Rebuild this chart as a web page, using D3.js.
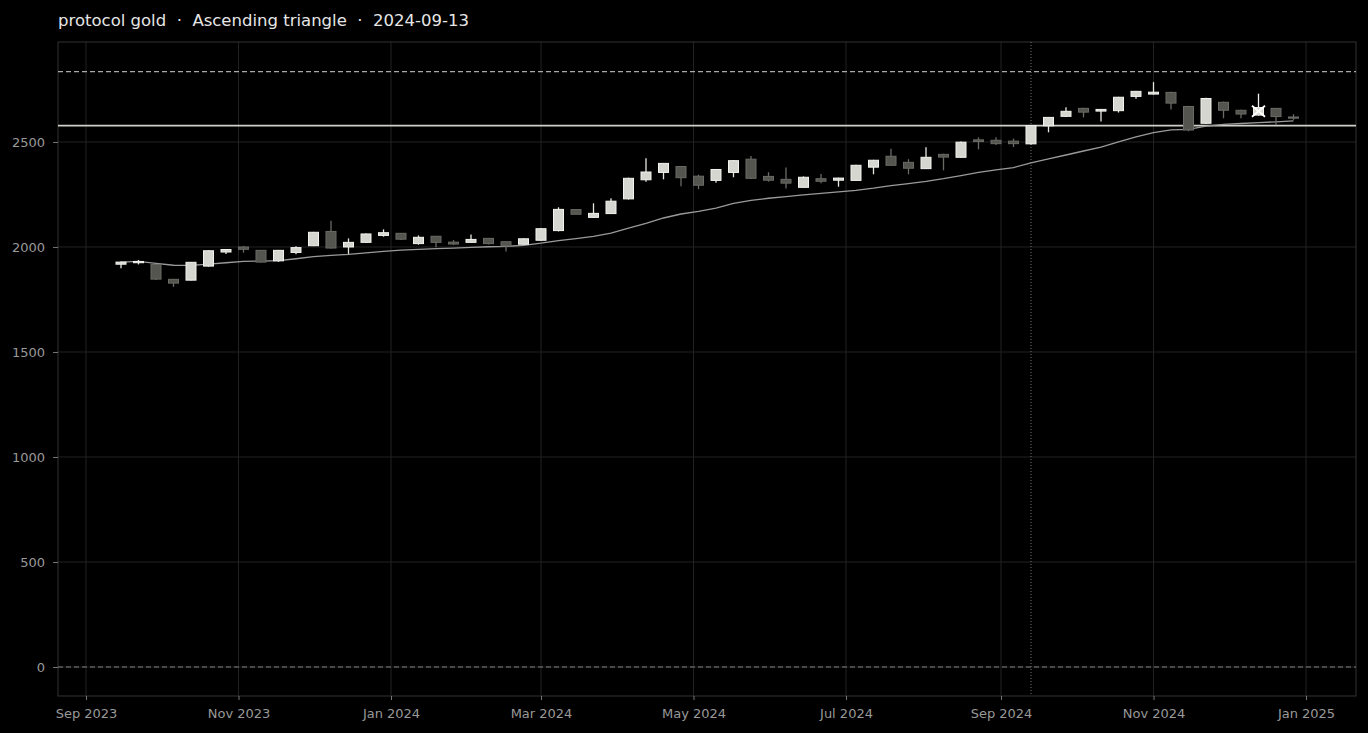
<!doctype html>
<html>
<head>
<meta charset="utf-8">
<script src="https://d3js.org/d3.v7.min.js"></script>
<style>
  body { margin: 0; background: #000; }
  svg { display: block; font-family: "DejaVu Sans", sans-serif; }
</style>
</head>
<body>
<div id="graphic"></div>
<script>

// weekly bars
var dates = [
  "2023-09-15","2023-09-22","2023-09-29","2023-10-06","2023-10-13","2023-10-20","2023-10-27",
  "2023-11-03","2023-11-10","2023-11-17","2023-11-24","2023-12-01","2023-12-08","2023-12-15",
  "2023-12-22","2023-12-29","2024-01-05","2024-01-12","2024-01-19","2024-01-26","2024-02-02",
  "2024-02-09","2024-02-16","2024-02-23","2024-03-01","2024-03-08","2024-03-15","2024-03-22",
  "2024-03-29","2024-04-05","2024-04-12","2024-04-19","2024-04-26","2024-05-03","2024-05-10",
  "2024-05-17","2024-05-24","2024-05-31","2024-06-07","2024-06-14","2024-06-21","2024-06-28",
  "2024-07-05","2024-07-12","2024-07-19","2024-07-26","2024-08-02","2024-08-09","2024-08-16",
  "2024-08-23","2024-08-30","2024-09-06","2024-09-13","2024-09-20","2024-09-27","2024-10-04",
  "2024-10-11","2024-10-18","2024-10-25","2024-11-01","2024-11-08","2024-11-15","2024-11-22",
  "2024-11-29","2024-12-06","2024-12-13","2024-12-20","2024-12-27"
];
var open = [
  1918,1925,1917,1846,1842,1909,1976,2000,1984,1934,1974,2006,2074,2000,2022,2055,2065,2016,
  2051,2023,2022,2041,2025,2013,2032,2078,2178,2141,2159,2229,2320,2355,2383,2337,2317,2355,
  2418,2336,2322,2284,2325,2318,2317,2380,2432,2403,2373,2441,2427,2510,2508,2504,2491,2577,
  2622,2660,2647,2649,2717,2728,2736,2669,2589,2689,2651,2628,2660,2619
];
var high = [
  1931,1938,1918,1847,1929,1984,1990,2005,1986,1986,2003,2072,2125,2041,2064,2084,2067,2055,
  2052,2033,2060,2042,2026,2041,2090,2189,2179,2208,2232,2330,2422,2400,2385,2344,2371,2413,
  2433,2356,2379,2336,2348,2330,2391,2415,2468,2418,2475,2444,2502,2522,2522,2516,2580,2619,
  2665,2663,2657,2715,2743,2785,2739,2672,2710,2692,2653,2666,2662,2632
];
var low = [
  1899,1917,1843,1810,1840,1906,1966,1973,1926,1929,1965,2004,1993,1967,2020,2049,2033,2011,
  1999,2009,2020,2012,1978,2011,2030,2074,2154,2139,2157,2226,2311,2322,2289,2275,2306,2332,
  2325,2311,2278,2282,2303,2287,2315,2346,2388,2346,2371,2365,2425,2465,2486,2476,2488,2546,
  2620,2617,2597,2640,2706,2726,2655,2551,2586,2613,2613,2626,2581,2605
];
var close = [
  1928,1931,1847,1828,1927,1982,1988,1989,1928,1984,1997,2070,1995,2022,2062,2068,2037,2046,
  2022,2014,2036,2016,2005,2039,2087,2179,2156,2160,2218,2327,2357,2398,2330,2294,2369,2411,
  2327,2318,2304,2332,2313,2328,2389,2413,2389,2375,2427,2428,2499,2502,2492,2492,2578,2617,
  2646,2642,2655,2713,2741,2737,2685,2557,2707,2651,2633,2664,2621,2615
];
var trend = [
  1928,1931,1922,1913,1912,1918,1925,1931,1933,1935,1944,1954,1960,1965,1972,1979,1985,1989,
  1992,1995,1998,2001,2003,2008,2018,2030,2040,2050,2066,2090,2112,2138,2157,2170,2185,2208,
  2222,2232,2240,2248,2255,2262,2270,2280,2292,2302,2312,2325,2340,2355,2367,2378,2400,2420,
  2438,2457,2476,2500,2524,2545,2558,2560,2575,2584,2588,2592,2596,2600
];
var yTicks = [0, 500, 1000, 1500, 2000, 2500];
var xTicks = ["2023-09-01","2023-11-01","2024-01-01","2024-03-01","2024-05-01",
              "2024-07-01","2024-09-01","2024-11-01","2025-01-01"];
var resistance = 2578;
var target = 2835;
var floorLevel = 0;
var patternDate = "2024-09-13";
var markDate = "2024-12-13";
var markTop = 2730;

var parse = d3.utcParse("%Y-%m-%d");
var bars = dates.map(function(d, i) {
  return {date: parse(d), o: open[i], h: high[i], l: low[i], c: close[i], ma: trend[i]};
});

var width = 1368, height = 733;
var margin = {left: 58, right: 1356, top: 42, bottom: 696};

var svg = d3.select("#graphic").append("svg")
  .attr("width", width)
  .attr("height", height)
  .style("background", "#000");

var x = d3.scaleUtc()
  .domain([parse("2023-09-01"), parse("2025-01-01")])
  .range([86, 1306]);
x.domain([x.invert(margin.left), x.invert(margin.right)]).range([margin.left, margin.right]);

var y = d3.scaleLinear().domain([-138, 2976]).range([margin.bottom, margin.top]);

var dayPx = x(parse("2024-01-02")) - x(parse("2024-01-01"));
var bodyW = dayPx * 4;

// grid
svg.append("g").selectAll("line").data(xTicks).enter().append("line")
  .attr("x1", d => x(parse(d))).attr("x2", d => x(parse(d)))
  .attr("y1", margin.top).attr("y2", margin.bottom)
  .style("stroke", "#222").style("stroke-width", 1);
svg.append("g").selectAll("line").data(yTicks).enter().append("line")
  .attr("x1", margin.left).attr("x2", margin.right)
  .attr("y1", d => y(d)).attr("y2", d => y(d))
  .style("stroke", "#222").style("stroke-width", 1);

// frame
svg.append("rect")
  .attr("x", margin.left).attr("y", margin.top)
  .attr("width", margin.right - margin.left).attr("height", margin.bottom - margin.top)
  .style("fill", "none").style("stroke", "#333").style("stroke-width", 1);

// axes
var xAxis = d3.axisBottom(x)
  .tickValues(xTicks.map(parse))
  .tickFormat(d3.utcFormat("%b %Y"))
  .tickSizeInner(4).tickSizeOuter(0).tickPadding(9);
var gx = svg.append("g")
  .attr("transform", "translate(0," + margin.bottom + ")")
  .call(xAxis);

var yAxis = d3.axisLeft(y)
  .tickValues(yTicks)
  .tickFormat(d3.format("d"))
  .tickSizeInner(5).tickSizeOuter(0).tickPadding(8);
var gy = svg.append("g")
  .attr("transform", "translate(" + margin.left + ",0)")
  .call(yAxis);

[gx, gy].forEach(function(g) {
  g.select(".domain").remove();
  g.selectAll(".tick line").style("stroke", "#777");
  g.selectAll(".tick text")
    .style("fill", "#999")
    .style("font-size", "13px")
    .style("font-family", "DejaVu Sans, sans-serif");
});

// horizontal levels
svg.append("line")
  .attr("x1", margin.left).attr("x2", margin.right)
  .attr("y1", y(floorLevel)).attr("y2", y(floorLevel))
  .style("stroke", "#808080").style("stroke-width", 1.2)
  .style("stroke-dasharray", "5,3");
svg.append("line")
  .attr("x1", margin.left).attr("x2", margin.right)
  .attr("y1", y(target)).attr("y2", y(target))
  .style("stroke", "#aaa").style("stroke-width", 1.4)
  .style("stroke-dasharray", "5,3");
svg.append("line")
  .attr("x1", margin.left).attr("x2", margin.right)
  .attr("y1", y(resistance)).attr("y2", y(resistance))
  .style("stroke", "#cfcfc8").style("stroke-width", 1.8);

// pattern date
svg.append("line")
  .attr("x1", x(parse(patternDate))).attr("x2", x(parse(patternDate)))
  .attr("y1", margin.top).attr("y2", margin.bottom)
  .style("stroke", "#777").style("stroke-width", 1)
  .style("stroke-dasharray", "1,2");

// moving average
var line = d3.line().x(d => x(d.date)).y(d => y(d.ma));
svg.append("path")
  .datum(bars)
  .attr("d", line)
  .style("fill", "none")
  .style("stroke", "#9a9a9a")
  .style("stroke-width", 1.3);

// candles
var candle = svg.append("g").selectAll("g").data(bars).enter().append("g");
candle.append("line")
  .attr("x1", d => x(d.date)).attr("x2", d => x(d.date))
  .attr("y1", d => y(d.h)).attr("y2", d => y(d.l))
  .style("stroke", d => d.c >= d.o ? "#e6e6e0" : "#6a6a66")
  .style("stroke-width", 1.3);
candle.append("rect")
  .attr("x", d => x(d.date) - bodyW / 2)
  .attr("width", bodyW)
  .attr("y", d => y(Math.max(d.o, d.c)))
  .attr("height", d => Math.max(1.2, Math.abs(y(d.o) - y(d.c))))
  .style("fill", d => d.c >= d.o ? "#d6d6d0" : "#55554f")
  .style("stroke", d => d.c >= d.o ? "#f2f2ee" : "#6a6a66")
  .style("stroke-width", 1);

// breakout mark
var mark = bars.filter(d => +d.date === +parse(markDate))[0];
var mx = x(mark.date), my = y(mark.h);
svg.append("line")
  .attr("x1", mx).attr("x2", mx)
  .attr("y1", y(markTop)).attr("y2", my)
  .style("stroke", "#f0f0f0").style("stroke-width", 1.3);
var cy = (y(mark.o) + y(mark.c)) / 2;
svg.append("path")
  .attr("d", "M" + (mx - 6.5) + "," + (cy - 5.5) + "L" + (mx + 6.5) + "," + (cy + 5.5) +
             "M" + (mx + 6.5) + "," + (cy - 5.5) + "L" + (mx - 6.5) + "," + (cy + 5.5))
  .style("stroke", "#fff").style("stroke-width", 1.8);

// title
svg.append("text")
  .attr("x", margin.left)
  .attr("y", 26)
  .style("fill", "#e6e6e6")
  .style("font-size", "16.5px")
  .style("white-space", "pre")
  .text("protocol gold  \u00b7  Ascending triangle  \u00b7  2024-09-13");

</script>
</body>
</html>
